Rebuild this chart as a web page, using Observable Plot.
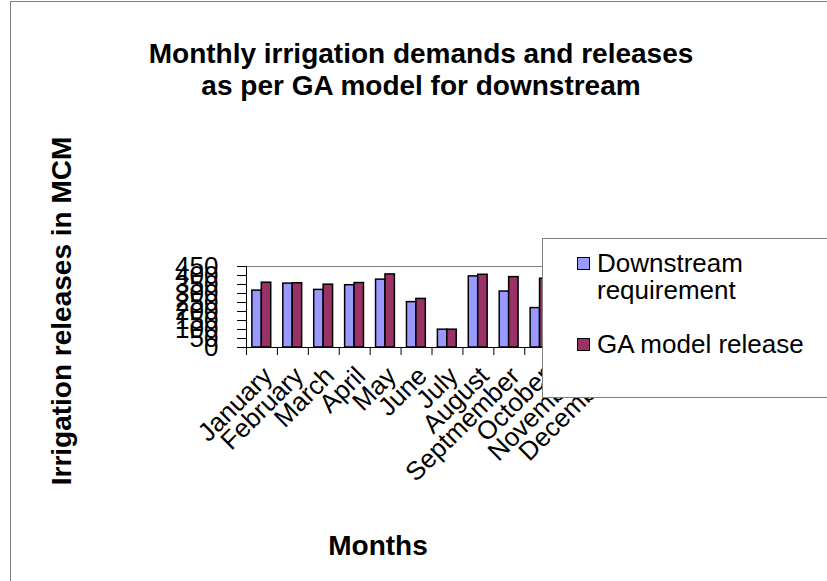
<!DOCTYPE html>
<html><head><meta charset="utf-8">
<script src="https://cdn.jsdelivr.net/npm/d3@7"></script>
<script src="https://cdn.jsdelivr.net/npm/@observablehq/plot@0.6"></script>
<style>
body{margin:0;background:#fff;font-family:"Liberation Sans",Arial,sans-serif;color:#000;}
#wrap{position:relative;width:827px;height:581px;overflow:hidden;}
#border{position:absolute;left:10px;top:1px;width:900px;height:700px;border:1px solid #808080;box-sizing:border-box;}
#chart{position:absolute;left:0;top:0;}
#title{position:absolute;left:121px;width:600px;top:38px;text-align:center;font-weight:bold;font-size:28px;line-height:32px;}
#ytitle{position:absolute;left:62px;top:311px;transform:translate(-50%,-50%) rotate(-90deg);white-space:nowrap;font-weight:bold;font-size:28px;}
#xtitle{position:absolute;left:378px;top:530px;transform:translateX(-50%);font-weight:bold;font-size:28px;white-space:nowrap;}
#legend{position:absolute;left:542px;top:238px;width:320px;height:160px;border:1px solid #808080;background:#fff;box-sizing:border-box;}
.li{position:absolute;left:34px;font-size:26px;line-height:27px;}
.sw{position:absolute;left:0;width:11px;height:11px;border:1.5px solid #000;}
.lt{position:absolute;left:20px;top:0;white-space:nowrap;}
</style></head>
<body>
<div id="wrap">
<div id="border"></div>
<div id="chart"></div>
<div id="title">Monthly irrigation demands and releases<br>as per GA model for downstream</div>
<div id="ytitle">Irrigation releases in MCM</div>
<div id="xtitle">Months</div>
<div id="legend"></div>
</div>
<script>
const months = ["January","February","March","April","May","June","July","August","Septmember","October","November","December"];
const downstream = [316,355,320,346,377,252,99,395,311,219,280,300];
const gaRelease = [360,357,349,358,406,270,99,404,391,382,300,330];
const seriesNames = ["Downstream requirement","GA model release"];
const seriesColors = ["#9999FF","#993366"];
const yTicks = [0,50,100,150,200,250,300,350,400,450];

const data = [];
months.forEach((m,i)=>{
  data.push({i, month:m, series:0, value:downstream[i]});
  data.push({i, month:m, series:1, value:gaRelease[i]});
});

const plot = Plot.plot({
  width:827, height:581,
  marginLeft:246, marginRight:210, marginTop:266, marginBottom:234,
  style:{fontFamily:"'Liberation Sans', Arial, sans-serif", color:"#000", background:"transparent"},
  x:{domain:[0,months.length], axis:null, label:null},
  y:{domain:[0,450], axis:null, label:null},
  marks:[
    Plot.frame({stroke:"#808080"}),
    Plot.rect(data,{
      x1:d=>d.i + (d.series===0 ? 0.19 : 0.495),
      x2:d=>d.i + (d.series===0 ? 0.495 : 0.80),
      y1:0, y2:"value",
      fill:d=>seriesColors[d.series],
      stroke:"#000", strokeWidth:1.5
    }),
    Plot.ruleY([0],{stroke:"#000"}),
    Plot.ruleX([0],{stroke:"#000"}),
    Plot.axisY({ticks:yTicks, tickSize:9, tickPadding:19, fontSize:26, stroke:"#000", fill:"#000", label:null}),
    Plot.axisX({ticks:d3.range(months.length+1), tickSize:8, tickFormat:()=>"", stroke:"#000", label:null}),
    Plot.text(months,{x:(d,i)=>i+0.5, frameAnchor:"bottom", rotate:-45, textAnchor:"end", lineAnchor:"top", fontSize:26, dx:-1, dy:17, fill:"#000"})
  ]
});
document.getElementById("chart").appendChild(plot);

const leg = document.getElementById("legend");
const tops = [11, 92];
const labels = ["Downstream<br>requirement","GA model release"];
seriesNames.forEach((s,k)=>{
  const li = document.createElement("div");
  li.className="li"; li.style.top = tops[k]+"px";
  li.innerHTML = `<div class="sw" style="top:7px;background:${seriesColors[k]}"></div><div class="lt">${labels[k]}</div>`;
  leg.appendChild(li);
});
</script>
</body></html>
